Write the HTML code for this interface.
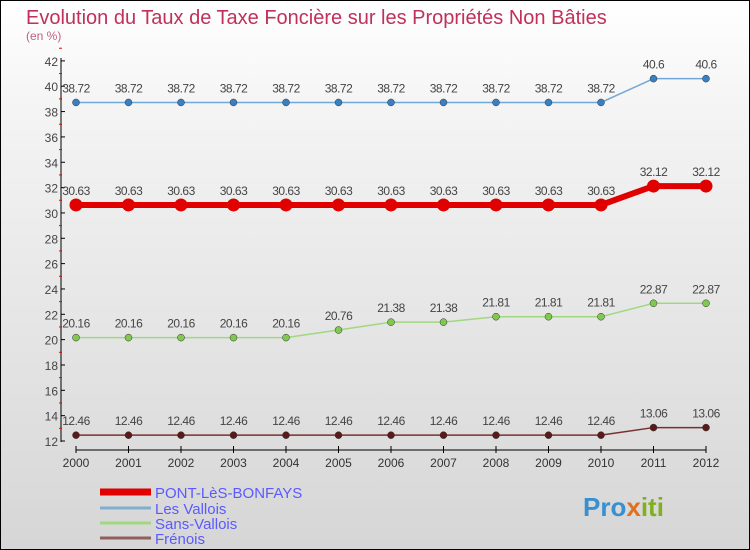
<!DOCTYPE html>
<html><head><meta charset="utf-8"><style>
body{margin:0}
#c{width:750px;height:550px;position:relative;box-sizing:border-box;border:1px solid #000;background:linear-gradient(#fff,#f4f4f4 20%,#d6d6d6);font-family:"Liberation Sans",sans-serif;overflow:hidden}
</style></head><body>
<div id="c">
<svg id="s" width="750" height="550" style="position:absolute;left:-1px;top:-1px" font-family="Liberation Sans, sans-serif">
<text x="26" y="24" font-size="20" fill="#c0305a">Evolution du Taux de Taxe Foncière sur les Propriétés Non Bâties</text>
<text x="26" y="40" font-size="12" fill="#c06080">(en %)</text>
<g id="axes"></g><g id="series"></g><g id="legend"></g>
<text x="583" y="516" font-size="26" font-weight="bold" fill="#3a8fd0">Pro<tspan fill="#e07020">x</tspan><tspan fill="#80b020">iti</tspan></text>
</svg>
</div>
<script>
const years=[2000,2001,2002,2003,2004,2005,2006,2007,2008,2009,2010,2011,2012];
const yTicks=[12,14,16,18,20,22,24,26,28,30,32,34,36,38,40,42];
const names=["PONT-LèS-BONFAYS","Les Vallois","Sans-Vallois","Frénois"];
const pont=[30.63,30.63,30.63,30.63,30.63,30.63,30.63,30.63,30.63,30.63,30.63,32.12,32.12];
const vallois=[38.72,38.72,38.72,38.72,38.72,38.72,38.72,38.72,38.72,38.72,38.72,40.6,40.6];
const sans=[20.16,20.16,20.16,20.16,20.16,20.76,21.38,21.38,21.81,21.81,21.81,22.87,22.87];
const frenois=[12.46,12.46,12.46,12.46,12.46,12.46,12.46,12.46,12.46,12.46,12.46,13.06,13.06];
const NS="http://www.w3.org/2000/svg";
const X=i=>76+i*52.5, Y=v=>441-(v-12)*12.67;
function mk(t,a,p){const e=document.createElementNS(NS,t);for(const k in a)e.setAttribute(k,a[k]);p.appendChild(e);return e;}
const ax=document.getElementById('axes');
let e=mk('line',{x1:61,y1:58,x2:61,y2:442,stroke:'#000'},ax);

e=mk('line',{x1:76,y1:450,x2:706,y2:450,stroke:'#000'},ax);

yTicks.forEach(v=>{mk('line',{x1:61,y1:Y(v),x2:65,y2:Y(v),stroke:'#000'},ax);
 mk('line',{x1:59,y1:Y(v+1),x2:62,y2:Y(v+1),stroke:'#e00'},ax);
 const t=mk('text',{x:58,y:Y(v)+5,'text-anchor':'end','font-size':12,fill:'#444'},ax);t.textContent=v;
 });
years.forEach((y,i)=>{mk('line',{x1:X(i),y1:446,x2:X(i),y2:453,stroke:'#000'},ax);
 const t=mk('text',{x:X(i),y:467,'text-anchor':'middle','font-size':12,fill:'#333'},ax);t.textContent=y;
 });
const sg=document.getElementById('series');
const defs=[[frenois,'#7a3030','#5a1a1a',1.5,3.5,'frenois'],[sans,'#a0d880','#80c850',1.5,3.5,'sans-vallois'],[vallois,'#70a8d8','#3a80c0',1.5,3.5,'les-vallois'],[pont,'#e00000','#e00000',6,6.5,'pont-les-bonfays']];
defs.forEach(([d,lc,pc,w,r,n])=>{
 const g=mk('g',{},sg);
 const l=mk('polyline',{points:d.map((v,i)=>X(i)+','+Y(v)).join(' '),fill:'none',stroke:lc,'stroke-width':w},g);
 
 d.forEach((v,i)=>{const c=mk('circle',{cx:X(i),cy:Y(v),r:r,fill:pc,stroke:w>3?'none':'#333','stroke-width':0.5},g);
  
  const t=mk('text',{x:X(i),y:Y(v)-10,'text-anchor':'middle','font-size':12,fill:'#444','letter-spacing':'-0.5'},g);t.textContent=v;
  });
});
const lg=document.getElementById('legend');
const lcol=['#e00000','#80aed0','#a0d880','#906060'],lw=[7,3,3,3],ly=[492,508,523,538];
names.forEach((n,i)=>{const g=mk('g',{},lg);
 mk('line',{x1:100,y1:ly[i],x2:151,y2:ly[i],stroke:lcol[i],'stroke-width':lw[i]},g);
 const t=mk('text',{x:155,y:ly[i]+6,'font-size':15,fill:'#5a5aff'},g);t.textContent=n;});
</script>
</body></html>
